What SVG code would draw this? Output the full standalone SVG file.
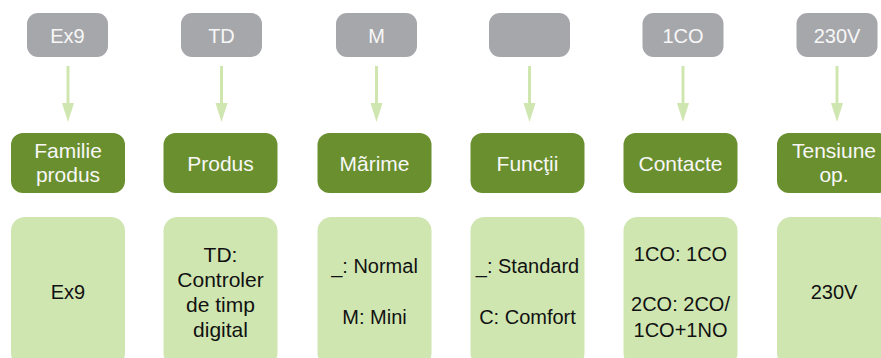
<svg xmlns="http://www.w3.org/2000/svg" width="881" height="358" viewBox="0 0 881 358">
<defs>
<style>
.code{fill:#a6a7ab}
.cat{fill:#6a8f2e}
.desc{fill:#d0e6b1}
text{font-family:"Liberation Sans",Arial,sans-serif;font-size:20px;text-anchor:middle}
.wt{fill:#f7f7f7}
.ct{font-size:21px}
.bt{fill:#111111}
.conn line{stroke:#d0e6b1;stroke-width:3}
.conn polygon{fill:#d0e6b1}
</style>
</defs>
<rect width="881" height="358" fill="#ffffff"/>
<g id="connectors" class="conn">
<line x1="68" y1="66" x2="68" y2="104"/><polygon points="62,103 74,103 68,122"/>
<line x1="221.5" y1="66" x2="221.5" y2="104"/><polygon points="215.5,103 227.5,103 221.5,122"/>
<line x1="376.5" y1="66" x2="376.5" y2="104"/><polygon points="370.5,103 382.5,103 376.5,122"/>
<line x1="529.5" y1="66" x2="529.5" y2="104"/><polygon points="523.5,103 535.5,103 529.5,122"/>
<line x1="683" y1="66" x2="683" y2="104"/><polygon points="677,103 689,103 683,122"/>
<line x1="837" y1="66" x2="837" y2="104"/><polygon points="831,103 843,103 837,122"/>
</g>
<g id="code-ex9"><rect class="code" x="27" y="13" width="81" height="44" rx="11"/><text class="wt" x="67.5" y="43">Ex9</text></g>
<g id="code-td"><rect class="code" x="181" y="13" width="81" height="44" rx="11"/><text class="wt" x="221.5" y="43">TD</text></g>
<g id="code-m"><rect class="code" x="336" y="13" width="81" height="44" rx="11"/><text class="wt" x="376.5" y="43">M</text></g>
<g id="code-blank"><rect class="code" x="489" y="13" width="81" height="44" rx="11"/></g>
<g id="code-1co"><rect class="code" x="642.5" y="13" width="81" height="44" rx="11"/><text class="wt" x="683" y="43">1CO</text></g>
<g id="code-230v"><rect class="code" x="796.5" y="13" width="81" height="44" rx="11"/><text class="wt" x="837" y="43">230V</text></g>

<g id="cat-familie"><rect class="cat" x="11" y="133" width="114" height="60" rx="12"/><text class="wt ct" x="68" y="158">Familie</text><text class="wt ct" x="68" y="182">produs</text></g>
<g id="cat-produs"><rect class="cat" x="163.5" y="133" width="114" height="60" rx="12"/><text class="wt ct" x="220.5" y="171">Produs</text></g>
<g id="cat-marime"><rect class="cat" x="317.5" y="133" width="114" height="60" rx="12"/><text class="wt ct" x="374.5" y="171">Mãrime</text></g>
<g id="cat-functii"><rect class="cat" x="470.5" y="133" width="114" height="60" rx="12"/><text class="wt ct" x="527.5" y="171">Funcţii</text></g>
<g id="cat-contacte"><rect class="cat" x="623.5" y="133" width="114" height="60" rx="12"/><text class="wt ct" x="680.5" y="171">Contacte</text></g>
<g id="cat-tensiune"><rect class="cat" x="777" y="133" width="114" height="60" rx="12"/><text class="wt ct" x="834" y="158">Tensiune</text><text class="wt ct" x="834" y="182">op.</text></g>

<g id="desc-ex9"><rect class="desc" x="11" y="217" width="114" height="150" rx="14"/><text class="bt" x="68" y="299">Ex9</text></g>
<g id="desc-td"><rect class="desc" x="163.5" y="217" width="114" height="150" rx="14"/><text class="bt ct" x="220.5" y="262">TD:</text><text class="bt ct" x="220.5" y="287">Controler</text><text class="bt ct" x="220.5" y="312">de timp</text><text class="bt ct" x="220.5" y="337">digital</text></g>
<g id="desc-m"><rect class="desc" x="317.5" y="217" width="114" height="150" rx="14"/><text class="bt" x="374.5" y="273">_: Normal</text><text class="bt" x="374.5" y="324">M: Mini</text></g>
<g id="desc-functii"><rect class="desc" x="470.5" y="217" width="114" height="150" rx="14"/><text class="bt" x="527.5" y="273">_: Standard</text><text class="bt" x="527.5" y="324">C: Comfort</text></g>
<g id="desc-contacte"><rect class="desc" x="623.5" y="217" width="114" height="150" rx="14"/><text class="bt" x="680.5" y="261">1CO: 1CO</text><text class="bt" x="680.5" y="311">2CO: 2CO/</text><text class="bt" x="680.5" y="337">1CO+1NO</text></g>
<g id="desc-230v"><rect class="desc" x="777" y="217" width="114" height="150" rx="14"/><text class="bt" x="834" y="299">230V</text></g>
</svg>
